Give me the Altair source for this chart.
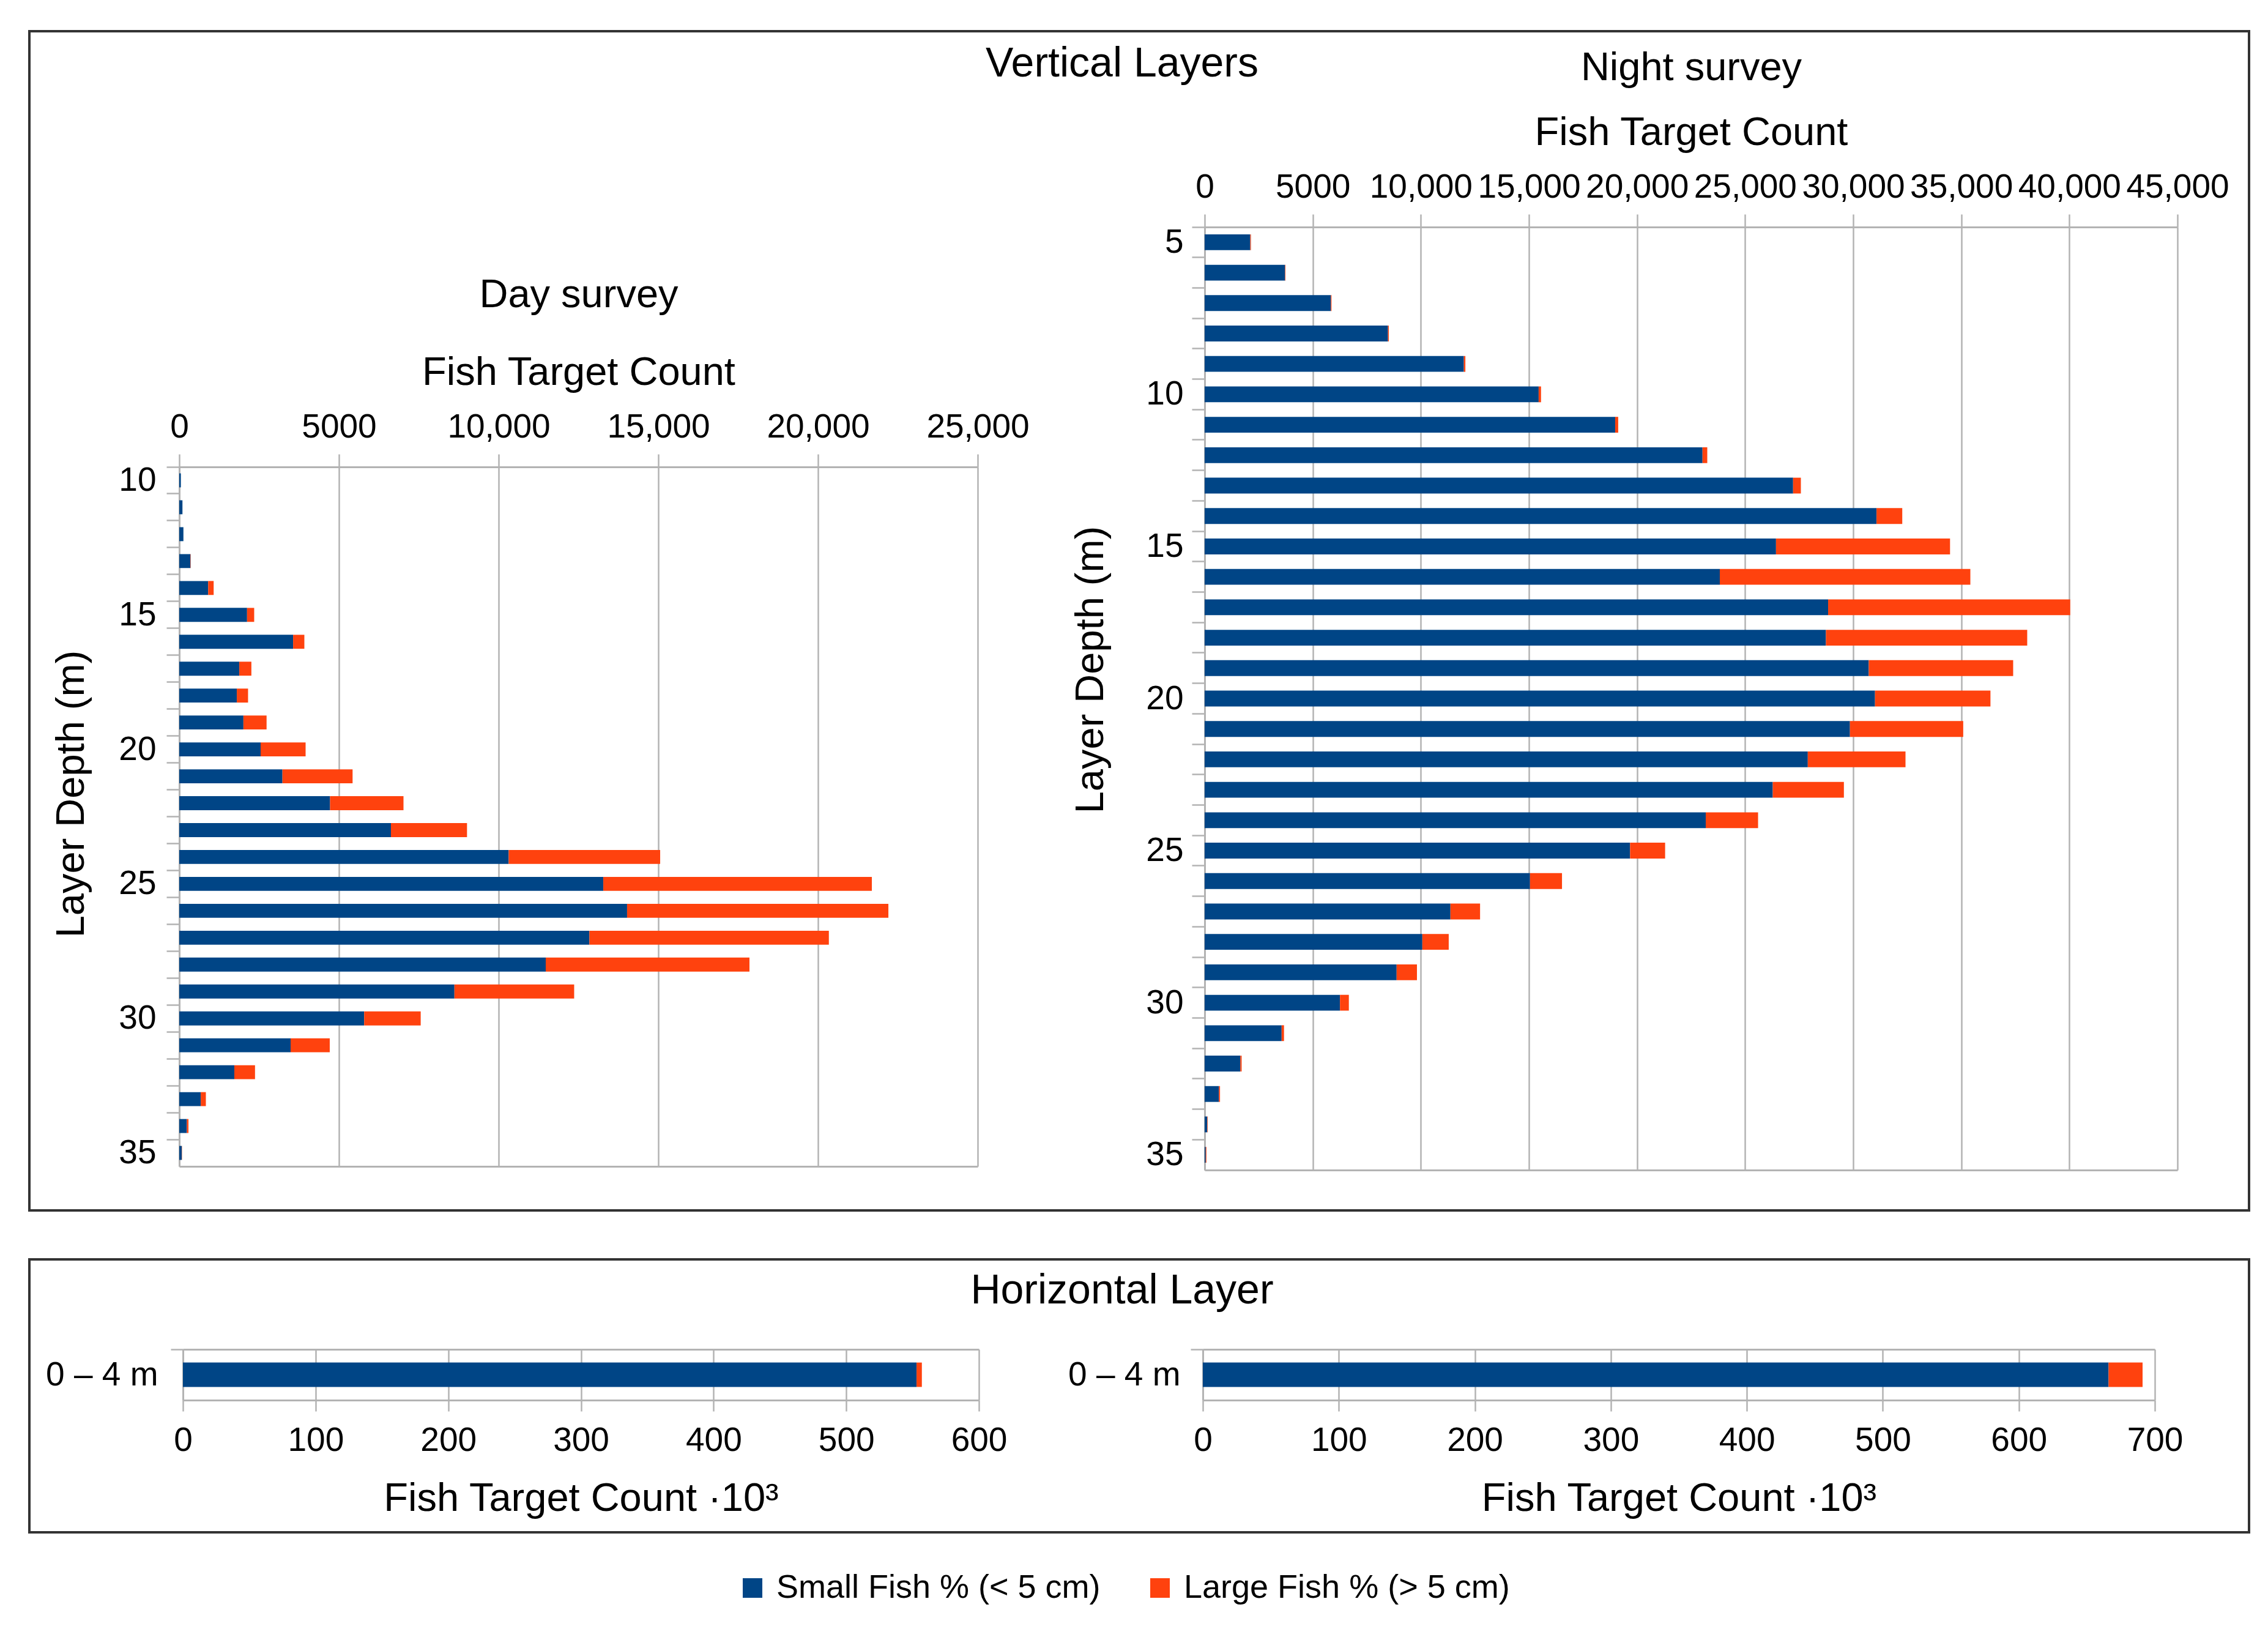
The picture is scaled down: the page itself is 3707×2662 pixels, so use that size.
import altair as alt
import pandas as pd

FONT = "Liberation Sans"
GRID = "#b3b3b3"

SERIES = ["Small Fish % (< 5 cm)", "Large Fish % (> 5 cm)"]
COLORS = ["#004586", "#ff420e"]

# Day survey, vertical layers (depth in m, fish target count)
DAY_DEPTH = list(range(10, 36))
DAY_SMALL = [50, 100, 130, 350, 905, 2123, 3565, 1879, 1802, 2009, 2548, 3231, 4722,
             6628, 10315, 13277, 14022, 12842, 11475, 8616, 5790, 3487, 1724, 673, 237, 77]
DAY_LARGE = [0, 0, 0, 10, 172, 223, 352, 379, 352, 725, 1408, 2196, 2299,
             2382, 4743, 8409, 8182, 7498, 6379, 3749, 1770, 1225, 648, 160, 51, 8]

# Night survey, vertical layers
NIGHT_DEPTH = list(range(5, 36))
NIGHT_SMALL = [2110, 3720, 5840, 8480, 11990, 15450, 18990, 23030, 27220, 31080, 26430,
               23830, 28840, 28740, 30720, 31010, 29850, 27900, 26280, 23180, 19680, 15050,
               11370, 10070, 8880, 6260, 3560, 1650, 660, 120, 50]
NIGHT_LARGE = [30, 20, 30, 40, 70, 110, 140, 220, 360, 1190, 8050,
               11590, 11200, 9310, 6680, 5340, 5240, 4520, 3290, 2420, 1620, 1480,
               1370, 1220, 940, 410, 110, 60, 50, 20, 30]

# Horizontal layer (x 10^3)
H_LAYER = ["0 – 4 m"]
HDAY_SMALL = [553]
HDAY_LARGE = [4]
HNIGHT_SMALL = [666]
HNIGHT_LARGE = [25]

DAY_TICKS = [0, 5000, 10000, 15000, 20000, 25000]
NIGHT_TICKS = [0, 5000, 10000, 15000, 20000, 25000, 30000, 35000, 40000, 45000]
HDAY_TICKS = [0, 100, 200, 300, 400, 500, 600]
HNIGHT_TICKS = [0, 100, 200, 300, 400, 500, 600, 700]


def to_long(keys, small, large, key):
    rows = []
    for k, s, l in zip(keys, small, large):
        rows.append({key: k, "series": SERIES[0], "count": s, "order": 0})
        rows.append({key: k, "series": SERIES[1], "count": l, "order": 1})
    return pd.DataFrame(rows)


LEGEND = alt.Legend(orient="none", legendX=1155, legendY=2517, direction="horizontal",
                    title=None, symbolType="square", symbolSize=1024, symbolStrokeWidth=0,
                    labelFont=FONT, labelFontSize=54, labelColor="black", labelOffset=12,
                    columnPadding=70, padding=0, labelLimit=0)
COLOR = alt.Color("series:N", scale=alt.Scale(domain=SERIES, range=COLORS),
                  sort=SERIES, legend=LEGEND)

TOP_H = 1927
BOT_H = 446
W = 3628

LABEL_EXPR = "datum.value >= 10000 ? format(datum.value, ',') : format(datum.value, 'd')"


def vertical(df, ticks, xdom, xr, yr, title_lines, line_h, title_pad, ylab_pad, ytitle_pad,
             ytitle_y):
    xs = alt.Scale(domain=xdom, range=xr, nice=False, zero=True)
    ys = alt.Scale(range=yr, paddingInner=0, paddingOuter=0)
    top_axis = alt.Axis(orient="top", offset=-yr[0], values=ticks, labelExpr=LABEL_EXPR,
                        labelFlush=False, labelOverlap=False, labelPadding=16, tickSize=21,
                        grid=True, title=title_lines, titleLineHeight=line_h,
                        titlePadding=title_pad)
    y_axis = alt.Axis(orient="left", offset=-xr[0], bandPosition=0,
                      labelExpr="datum.value % 5 == 0 ? datum.label : ''",
                      labelPadding=ylab_pad, tickSize=21, grid=False, labelOverlap=False,
                      title="Layer Depth (m)", titlePadding=ytitle_pad, titleY=ytitle_y)
    bars = alt.Chart(df).mark_bar(height={"band": 0.52}).encode(
        x=alt.X("count:Q", stack="zero", scale=xs, axis=top_axis),
        y=alt.Y("depth:O", scale=ys, axis=y_axis),
        color=COLOR,
        order=alt.Order("order:Q"),
    )
    bottom_axis = alt.Axis(orient="bottom", offset=yr[1] - TOP_H, labels=False, ticks=False,
                           grid=False, title=None, domain=True)
    frame = alt.Chart(df).mark_bar(opacity=0).encode(
        x=alt.X("count:Q", scale=xs, axis=bottom_axis),
        y=alt.Y("depth:O", scale=ys, axis=y_axis),
    )
    return alt.layer(bars, frame)


def horizontal(df, ticks, xdom, xr, yr, ylab_pad):
    xs = alt.Scale(domain=xdom, range=xr, nice=False, zero=True)
    ys = alt.Scale(range=yr, paddingInner=0, paddingOuter=0)
    bottom_axis = alt.Axis(orient="bottom", offset=yr[1] - BOT_H, values=ticks, format="d",
                           labelFlush=False, labelOverlap=False, tickSize=18, labelPadding=21,
                           grid=False, title="Fish Target Count ·10³", titlePadding=36)
    y_axis = alt.Axis(orient="left", offset=-xr[0], bandPosition=0, labelLimit=0,
                      tickSize=20, labelPadding=ylab_pad, grid=False, title=None)
    bars = alt.Chart(df).mark_bar(height={"band": 0.48}).encode(
        x=alt.X("count:Q", stack="zero", scale=xs, axis=bottom_axis),
        y=alt.Y("layer:N", scale=ys, axis=y_axis),
        color=COLOR,
        order=alt.Order("order:Q"),
    )
    top_axis = alt.Axis(orient="top", offset=-yr[0], values=ticks, labels=False, ticks=False,
                        grid=True, title=None, domain=True)
    frame = alt.Chart(df).mark_bar(opacity=0).encode(
        x=alt.X("count:Q", scale=xs, axis=top_axis),
        y=alt.Y("layer:N", scale=ys, axis=y_axis),
    )
    return alt.layer(bars, frame)


day_df = to_long(DAY_DEPTH, DAY_SMALL, DAY_LARGE, "depth")
night_df = to_long(NIGHT_DEPTH, NIGHT_SMALL, NIGHT_LARGE, "depth")
hday_df = to_long(H_LAYER, HDAY_SMALL, HDAY_LARGE, "layer")
hnight_df = to_long(H_LAYER, HNIGHT_SMALL, HNIGHT_LARGE, "layer")

day_v = vertical(day_df, DAY_TICKS, [0, 25000], [245, 1550], [712, 1855],
                 ["Day survey", "Fish Target Count"], 127, 28, 17, 43, 1246)
night_v = vertical(night_df, NIGHT_TICKS, [0, 45000], [1921, 3511], [320, 1861],
                   ["Night survey", "Fish Target Count"], 106, 28, 14, 56, 1043)

top = alt.layer(day_v, night_v).resolve_scale(
    x="independent", y="independent").resolve_axis(
    x="independent", y="independent").properties(
    width=W, height=TOP_H,
    title=alt.TitleParams("Vertical Layers", offset=-142, dx=-28, baseline="alphabetic",
                          anchor="middle"))

hday = horizontal(hday_df, HDAY_TICKS, [0, 600], [251, 1552], [147, 230], 21)
hnight = horizontal(hnight_df, HNIGHT_TICKS, [0, 700], [1918, 3474], [147, 230], 17)

bottom = alt.layer(hday, hnight).resolve_scale(
    x="independent", y="independent").resolve_axis(
    x="independent", y="independent").properties(
    width=W, height=BOT_H,
    title=alt.TitleParams("Horizontal Layer", offset=-140, dx=-28, baseline="alphabetic",
                          anchor="middle"))

chart = alt.vconcat(top, bottom, spacing=76).properties(
    padding={"left": 38, "top": 41, "right": 20, "bottom": 20}
).configure(font=FONT).configure_view(
    stroke="#333333", strokeWidth=4
).configure_axis(
    labelFont=FONT, labelFontSize=55, labelColor="black",
    titleFont=FONT, titleFontSize=65, titleFontWeight="normal", titleColor="black",
    domainColor=GRID, domainWidth=3, tickColor=GRID, tickWidth=2.5,
    gridColor=GRID, gridWidth=2.5
).configure_title(font=FONT, fontSize=68, fontWeight="normal", color="black")

chart.save("out.html", embed_options={"renderer": "svg", "actions": False})
